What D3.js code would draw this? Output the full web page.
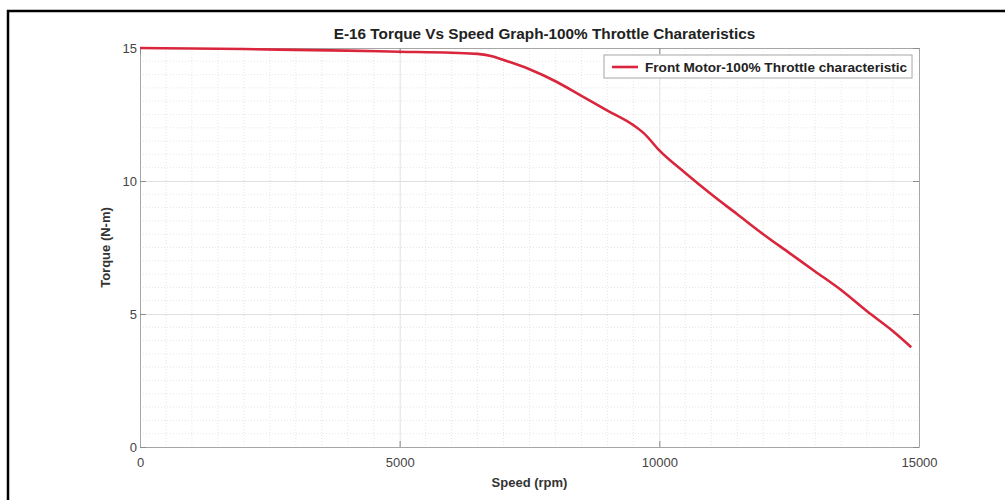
<!DOCTYPE html>
<html>
<head>
<meta charset="utf-8">
<script src="https://cdn.jsdelivr.net/npm/d3@7"></script>
<style>
  body { margin: 0; background: #fff; }
  svg { font-family: "Liberation Sans", Arial, sans-serif; }
  .tick text { fill: #444; font-size: 13px; }
</style>
</head>
<body>
<div id="chart"></div>
<script>
// data
var speed  = [0, 1000, 2000, 3000, 4000, 5000, 6000, 6500, 6800, 7000, 7500, 8000, 8500, 9000, 9500, 9700,
              10000, 10500, 11000, 11500, 12000, 12500, 13000, 13500, 14000, 14500, 14850];
var torque = [15.0, 14.98, 14.96, 14.93, 14.9, 14.86, 14.82, 14.78, 14.68, 14.55, 14.2, 13.75, 13.2, 12.65, 12.1, 11.8,
              11.15, 10.3, 9.5, 8.75, 8.0, 7.3, 6.6, 5.9, 5.1, 4.35, 3.75];
var xTicks = [0, 5000, 10000, 15000];
var yTicks = [0, 5, 10, 15];
var titleText = "E-16 Torque Vs Speed Graph-100% Throttle Charateristics";
var legendText = "Front Motor-100% Throttle characteristic";

var width = 1005, height = 500;
var margin = {top: 48, right: 86, bottom: 53, left: 140};
var w = width - margin.left - margin.right;
var h = height - margin.top - margin.bottom;

var svg0 = d3.select("#chart").append("svg")
    .attr("width", width)
    .attr("height", height);

// outer black frame
svg0.append("rect")
    .attr("x", 8).attr("y", 11)
    .attr("width", 1010).attr("height", 520)
    .attr("fill", "none")
    .attr("stroke", "#000")
    .attr("stroke-width", 2.5);

var svg = svg0.append("g")
    .attr("transform", "translate(" + margin.left + "," + margin.top + ")");

var x = d3.scaleLinear().domain([0, 15000]).range([0, w]);
var y = d3.scaleLinear().domain([0, 15]).range([h, 0]);

// minor grid
svg.append("g")
    .selectAll("line")
    .data(d3.range(500, 15000, 500).filter(function(d) { return d % 5000 != 0; }))
    .enter().append("line")
    .attr("x1", function(d) { return x(d); }).attr("x2", function(d) { return x(d); })
    .attr("y1", 0).attr("y2", h)
    .attr("stroke", "#e6e6e6").attr("stroke-dasharray", "1,2");

svg.append("g")
    .selectAll("line")
    .data(d3.range(0.5, 15, 0.5).filter(function(d) { return d % 5 != 0; }))
    .enter().append("line")
    .attr("y1", function(d) { return y(d); }).attr("y2", function(d) { return y(d); })
    .attr("x1", 0).attr("x2", w)
    .attr("stroke", "#e6e6e6").attr("stroke-dasharray", "1,2");

// major grid
svg.append("g")
    .attr("transform", "translate(0," + h + ")")
    .call(d3.axisBottom(x).tickValues(xTicks).tickSize(-h).tickFormat(""))
    .call(function(g) { g.select(".domain").remove(); })
    .selectAll("line").attr("class", "grid").attr("stroke", "#e0e0e0");

svg.append("g")
    .call(d3.axisLeft(y).tickValues(yTicks).tickSize(-w).tickFormat(""))
    .call(function(g) { g.select(".domain").remove(); })
    .selectAll("line").attr("class", "grid").attr("stroke", "#e0e0e0");

// axes (ticks pointing inward)
var xAxis = svg.append("g")
    .attr("transform", "translate(0," + h + ")")
    .call(d3.axisBottom(x).tickValues(xTicks).tickSize(-6).tickPadding(14).tickSizeOuter(0).tickFormat(d3.format("d")));
var yAxis = svg.append("g")
    .call(d3.axisLeft(y).tickValues(yTicks).tickSize(-6).tickPadding(3).tickSizeOuter(0));
svg.append("g")
    .call(d3.axisTop(x).tickValues(xTicks).tickSize(-6).tickFormat("").tickSizeOuter(0));
svg.append("g")
    .attr("transform", "translate(" + w + ",0)")
    .call(d3.axisRight(y).tickValues(yTicks).tickSize(-6).tickFormat("").tickSizeOuter(0));

svg.selectAll(".domain").attr("stroke", "#a6a6a6");
svg.selectAll(".tick line:not(.grid)").attr("stroke", "#8c8c8c");
xAxis.selectAll("text").attr("dy", "0.45em");

// curve
var pts = speed.map(function(s, i) { return [s, torque[i]]; });
var line = d3.line()
    .x(function(d) { return x(d[0]); })
    .y(function(d) { return y(d[1]); })
    .curve(d3.curveMonotoneX);

svg.append("path")
    .datum(pts)
    .attr("d", line)
    .attr("fill", "none")
    .attr("stroke", "#d9263c")
    .attr("stroke-width", 2.6);

// title and labels
svg.append("text")
    .attr("x", w / 2 + 15).attr("y", -9)
    .attr("text-anchor", "middle")
    .style("font-size", "15.3px").style("font-weight", "bold").style("fill", "#222")
    .text(titleText);

svg.append("text")
    .attr("x", w / 2).attr("y", h + 40)
    .attr("text-anchor", "middle")
    .style("font-size", "13px").style("font-weight", "bold").style("fill", "#333")
    .text("Speed (rpm)");

svg.append("text")
    .attr("transform", "rotate(-90)")
    .attr("x", -h / 2).attr("y", -30)
    .attr("text-anchor", "middle")
    .style("font-size", "13px").style("font-weight", "bold").style("fill", "#333")
    .text("Torque (N-m)");

// legend
var lg = svg.append("g").attr("transform", "translate(" + x(8935) + "," + 7 + ")");
lg.append("rect")
    .attr("width", 308).attr("height", 23)
    .attr("fill", "#fff").attr("stroke", "#a6a6a6");
lg.append("line")
    .attr("x1", 8).attr("x2", 34).attr("y1", 12).attr("y2", 12)
    .attr("stroke", "#d9263c").attr("stroke-width", 2.6);
lg.append("text")
    .attr("x", 41).attr("y", 16.5)
    .style("font-size", "13.6px").style("font-weight", "bold").style("fill", "#222")
    .text(legendText);
</script>
</body>
</html>
